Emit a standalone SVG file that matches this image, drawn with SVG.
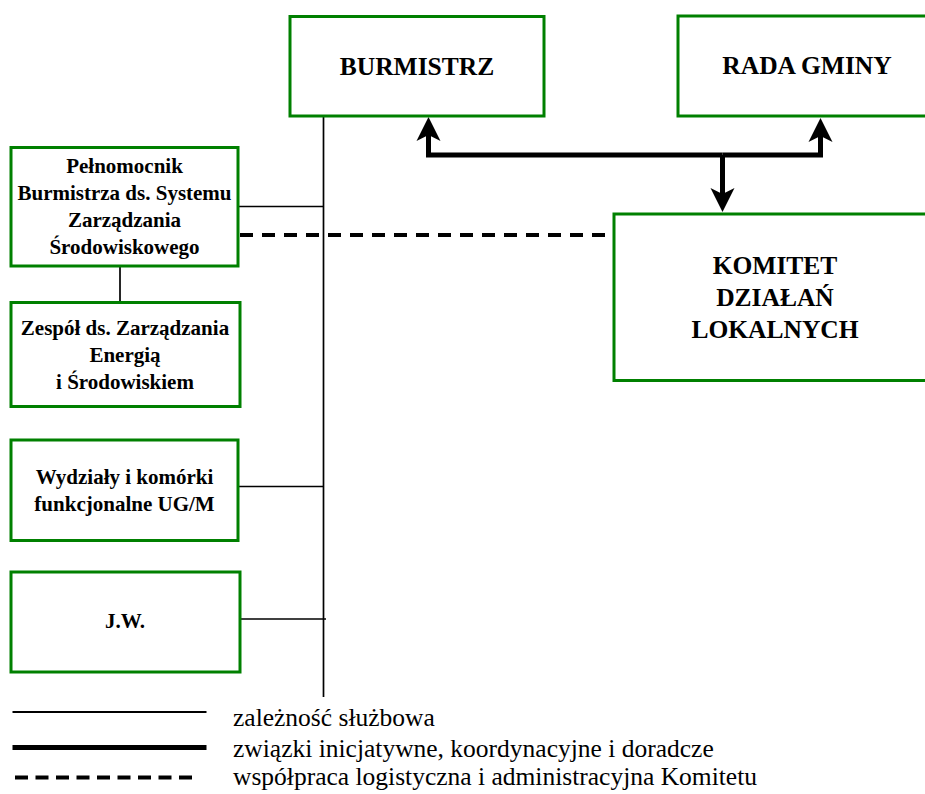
<svg xmlns="http://www.w3.org/2000/svg" width="925" height="794" viewBox="0 0 925 794">
<style>
.box{fill:#ffffff;stroke:#008000;stroke-width:3}
.t{font-family:"Liberation Serif","Times New Roman",serif;font-weight:bold;fill:#000;text-anchor:middle}
.big{font-size:25.5px}
.sm{font-size:21px}
.leg{font-family:"Liberation Serif","Times New Roman",serif;font-size:25.5px;fill:#000}
.thin{fill:none;stroke:#000;stroke-width:1.7}
.thick{fill:none;stroke:#000;stroke-width:5;stroke-linejoin:miter}
.dash{fill:none;stroke:#000;stroke-width:4;stroke-dasharray:13 9}
</style>
<defs>
<marker id="ah" markerUnits="userSpaceOnUse" viewBox="-7 -13 26 26" markerWidth="26" markerHeight="26" refX="0" refY="0" orient="auto">
<path d="M0,0 L-6,-12 L18,0 L-6,12 Z" fill="#000"/>
</marker>
</defs>
<rect width="925" height="794" fill="#ffffff"/>
<g id="connectors">
<line class="thin" x1="323.5" y1="116" x2="323.5" y2="697"/>
<line class="thin" x1="238" y1="206.5" x2="323.5" y2="206.5"/>
<line class="thin" x1="120" y1="266" x2="120" y2="302"/>
<line class="thin" x1="238" y1="486.5" x2="323.5" y2="486.5"/>
<line class="thin" x1="240" y1="619" x2="326" y2="619"/>
<line class="dash" x1="240" y1="235" x2="614" y2="235"/>
<path class="thick" d="M722.5,155 H428.5 V135" marker-end="url(#ah)"/>
<path class="thick" d="M722.5,155 H820.5 V136" marker-end="url(#ah)"/>
<path class="thick" d="M722.5,155 V194" marker-end="url(#ah)"/>
</g>
<g id="burmistrz">
<rect class="box" x="290" y="16.5" width="254" height="99.5"/>
<text class="t big" x="417" y="75">BURMISTRZ</text>
</g>
<g id="rada-gminy">
<rect class="box" x="678" y="16" width="262" height="100"/>
<text class="t big" x="807" y="74">RADA GMINY</text>
</g>
<g id="komitet">
<rect class="box" x="614" y="214" width="330" height="166.5"/>
<text class="t big" x="775" y="274">KOMITET</text>
<text class="t big" x="775" y="306">DZIAŁAŃ</text>
<text class="t big" x="775" y="338">LOKALNYCH</text>
</g>
<g id="pelnomocnik">
<rect class="box" x="11" y="147.5" width="227" height="118.5"/>
<text class="t sm" x="124.5" y="173">Pełnomocnik</text>
<text class="t sm" x="124.5" y="200">Burmistrza ds. Systemu</text>
<text class="t sm" x="124.5" y="227">Zarządzania</text>
<text class="t sm" x="124.5" y="254">Środowiskowego</text>
</g>
<g id="zespol">
<rect class="box" x="11" y="302.5" width="229" height="104"/>
<text class="t sm" x="125" y="335">Zespół ds. Zarządzania</text>
<text class="t sm" x="125" y="362">Energią</text>
<text class="t sm" x="125" y="389">i Środowiskiem</text>
</g>
<g id="wydzialy">
<rect class="box" x="11" y="440" width="227" height="100.5"/>
<text class="t sm" x="124.5" y="484">Wydziały i komórki</text>
<text class="t sm" x="124.5" y="511">funkcjonalne UG/M</text>
</g>
<g id="jw">
<rect class="box" x="11" y="572" width="229" height="100"/>
<text class="t sm" x="125" y="628">J.W.</text>
</g>
<g id="legend">
<line x1="12.5" y1="712" x2="206.5" y2="712" stroke="#000" stroke-width="2"/>
<line x1="12.5" y1="747.5" x2="206.5" y2="747.5" stroke="#000" stroke-width="5"/>
<line class="dash" x1="15" y1="777.5" x2="199" y2="777.5" style="stroke-dasharray:13 7.5"/>
<text class="leg" x="233" y="726">zależność służbowa</text>
<text class="leg" x="233" y="757">związki inicjatywne, koordynacyjne i doradcze</text>
<text class="leg" x="233" y="785">współpraca logistyczna i administracyjna Komitetu</text>
</g>
</svg>
